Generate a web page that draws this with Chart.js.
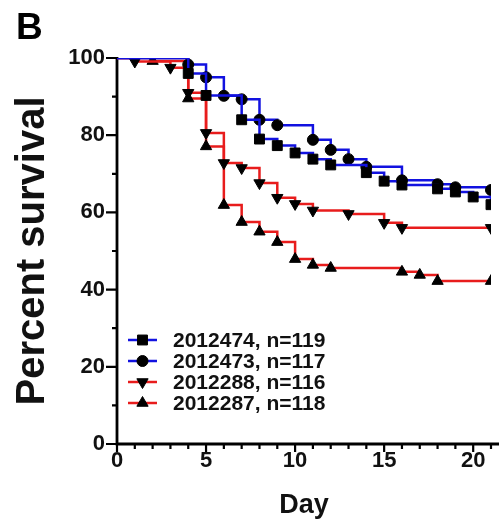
<!DOCTYPE html>
<html>
<head>
<meta charset="utf-8">
<script src="https://cdn.jsdelivr.net/npm/chart.js@4/dist/chart.umd.min.js"></script>
<style>
  html, body { margin: 0; padding: 0; background: #fff; }
  #wrap { width: 502px; height: 525px; }
</style>
</head>
<body>
<div id="wrap"><canvas id="surv" width="502" height="525"></canvas></div>
<script>
// survival curves, panel B
const labels = ["2012474, n=119", "2012473, n=117", "2012288, n=116", "2012287, n=118"];

const days474 = [0, 4, 5, 7, 8, 9, 10, 11, 12, 14, 15, 16, 18, 19, 20, 21];
const surv474 = [100, 96, 90.3, 84, 79, 77.3, 75.4, 73.8, 72.3, 70.3, 68.1, 67.1, 66.1, 65.3, 64, 62];

const days473 = [0, 4, 5, 6, 7, 8, 9, 11, 12, 13, 14, 16, 18, 19, 21];
const surv473 = [100, 98.3, 95, 90.2, 89.3, 84, 82.6, 78.8, 76.2, 73.8, 71.8, 68.3, 67.3, 66.5, 65.8];

const days288 = [0, 1, 3, 4, 5, 6, 7, 8, 9, 10, 11, 13, 15, 16, 21];
const surv288 = [100, 99.1, 97.5, 91, 80.6, 72.8, 71.5, 67.6, 63.8, 62.2, 60.5, 59.6, 57.3, 56, 56];

const days287 = [0, 2, 4, 5, 6, 7, 8, 9, 10, 11, 12, 16, 17, 18, 21];
const surv287 = [100, 99.2, 89.5, 77.1, 61.9, 57.5, 55, 52.3, 47.9, 46.4, 45.6, 44.6, 43.8, 42.2, 42.2];

const xTicks = [0, 5, 10, 15, 20];
const yTicks = [0, 20, 40, 60, 80, 100];

const BLUE = "#1212e0";
const RED = "#e81c1c";
const FONT = "'Liberation Sans', Arial, Helvetica, sans-serif";

function pts(days, vals) {
  return days.map((d, i) => ({ x: d, y: vals[i] }));
}

function series(label, days, vals, color, style, rot, r) {
  return {
    label: label,
    data: pts(days, vals),
    borderColor: color,
    borderWidth: 2.5,
    borderJoinStyle: "miter",
    stepped: "before",
    fill: false,
    pointStyle: style,
    rotation: rot,
    pointRadius: c => (c.dataIndex === 0 ? 0 : r),
    pointBackgroundColor: "#000",
    pointBorderColor: "#000",
    pointBorderWidth: 1,
    _legendR: r
  };
}

// axes with long major and short minor ticks, drawn from the scales
const axesPlugin = {
  id: "axes",
  beforeDatasetsDraw(chart) {
    const ctx = chart.ctx;
    const xs = chart.scales.x, ys = chart.scales.y;
    const x0 = xs.getPixelForValue(0), y0 = ys.getPixelForValue(0);
    ctx.save();
    ctx.strokeStyle = "#000";
    ctx.lineWidth = 2.8;
    ctx.beginPath();
    ctx.moveTo(x0, y0 + 1.4);
    ctx.lineTo(x0, ys.getPixelForValue(100) - 1);
    ctx.moveTo(x0 - 1.4, y0);
    ctx.lineTo(xs.getPixelForValue(21) + 8, y0);
    ctx.stroke();
    ctx.lineWidth = 2.2;
    ctx.beginPath();
    for (let v = 0; v <= 100; v += 10) {
      const y = ys.getPixelForValue(v);
      const len = v % 20 === 0 ? 11 : 5;
      ctx.moveTo(x0, y);
      ctx.lineTo(x0 - len, y);
    }
    for (let d = 0; d <= 21; d++) {
      const x = xs.getPixelForValue(d);
      const len = d % 5 === 0 ? 8 : 5;
      ctx.moveTo(x, y0);
      ctx.lineTo(x, y0 + len);
    }
    ctx.stroke();
    ctx.restore();
  }
};

// legend inside the plot: line sample with marker, then label
const legendPlugin = {
  id: "insideLegend",
  afterDraw(chart) {
    const ctx = chart.ctx;
    ctx.save();
    chart.data.datasets.forEach((ds, i) => {
      const y = 340 + i * 21;
      ctx.strokeStyle = ds.borderColor;
      ctx.lineWidth = 2.5;
      ctx.beginPath();
      ctx.moveTo(128, y);
      ctx.lineTo(157, y);
      ctx.stroke();
      ctx.fillStyle = "#000";
      ctx.strokeStyle = "#000";
      ctx.lineWidth = 1;
      Chart.helpers.drawPoint(ctx, {
        pointStyle: ds.pointStyle, rotation: ds.rotation,
        radius: ds._legendR, borderWidth: 1
      }, 142.5, y);
      ctx.fillStyle = "#111";
      ctx.font = "bold 21px " + FONT;
      ctx.textAlign = "left";
      ctx.textBaseline = "middle";
      ctx.fillText(ds.label, 173, y + 1);
    });
    ctx.font = "bold 37px " + FONT;
    ctx.textBaseline = "alphabetic";
    ctx.fillStyle = "#000";
    ctx.fillText("B", 16, 39);
    ctx.restore();
  }
};

new Chart(document.getElementById("surv"), {
  type: "line",
  data: {
    datasets: [
      series(labels[0], days474, surv474, BLUE, "rect", 0, 7),
      series(labels[1], days473, surv473, BLUE, "circle", 0, 5.5),
      series(labels[2], days288, surv288, RED, "triangle", 180, 6.5),
      series(labels[3], days287, surv287, RED, "triangle", 0, 6.5)
    ]
  },
  options: {
    responsive: false,
    animation: false,
    layout: { padding: { top: 58, right: 11, left: 0, bottom: 0 } },
    plugins: { legend: { display: false }, tooltip: { enabled: false } },
    scales: {
      x: {
        type: "linear",
        min: 0,
        max: 21,
        grid: { display: false, drawTicks: false },
        border: { display: false },
        afterFit: s => { s.height = 81; },
        afterBuildTicks: s => { s.ticks = xTicks.map(v => ({ value: v })); },
        ticks: {
          padding: 6,
          color: "#111",
          font: { family: FONT, size: 22, weight: "bold", lineHeight: 1 }
        },
        title: {
          display: true,
          text: "Day",
          color: "#111",
          padding: { top: 0, bottom: 6 },
          font: { family: FONT, size: 27, weight: "bold", lineHeight: 1 }
        }
      },
      y: {
        min: 0,
        max: 100,
        grid: { display: false, drawTicks: false },
        border: { display: false },
        afterFit: s => { s.width = 117; },
        afterBuildTicks: s => { s.ticks = yTicks.map(v => ({ value: v })); },
        ticks: {
          padding: 12,
          color: "#111",
          font: { family: FONT, size: 22, weight: "bold", lineHeight: 1 }
        },
        title: {
          display: true,
          text: "Percent survival",
          color: "#111",
          padding: { top: 13, bottom: 0 },
          font: { family: FONT, size: 40, weight: "bold", lineHeight: 1 }
        }
      }
    }
  },
  plugins: [axesPlugin, legendPlugin]
});
</script>
</body>
</html>
